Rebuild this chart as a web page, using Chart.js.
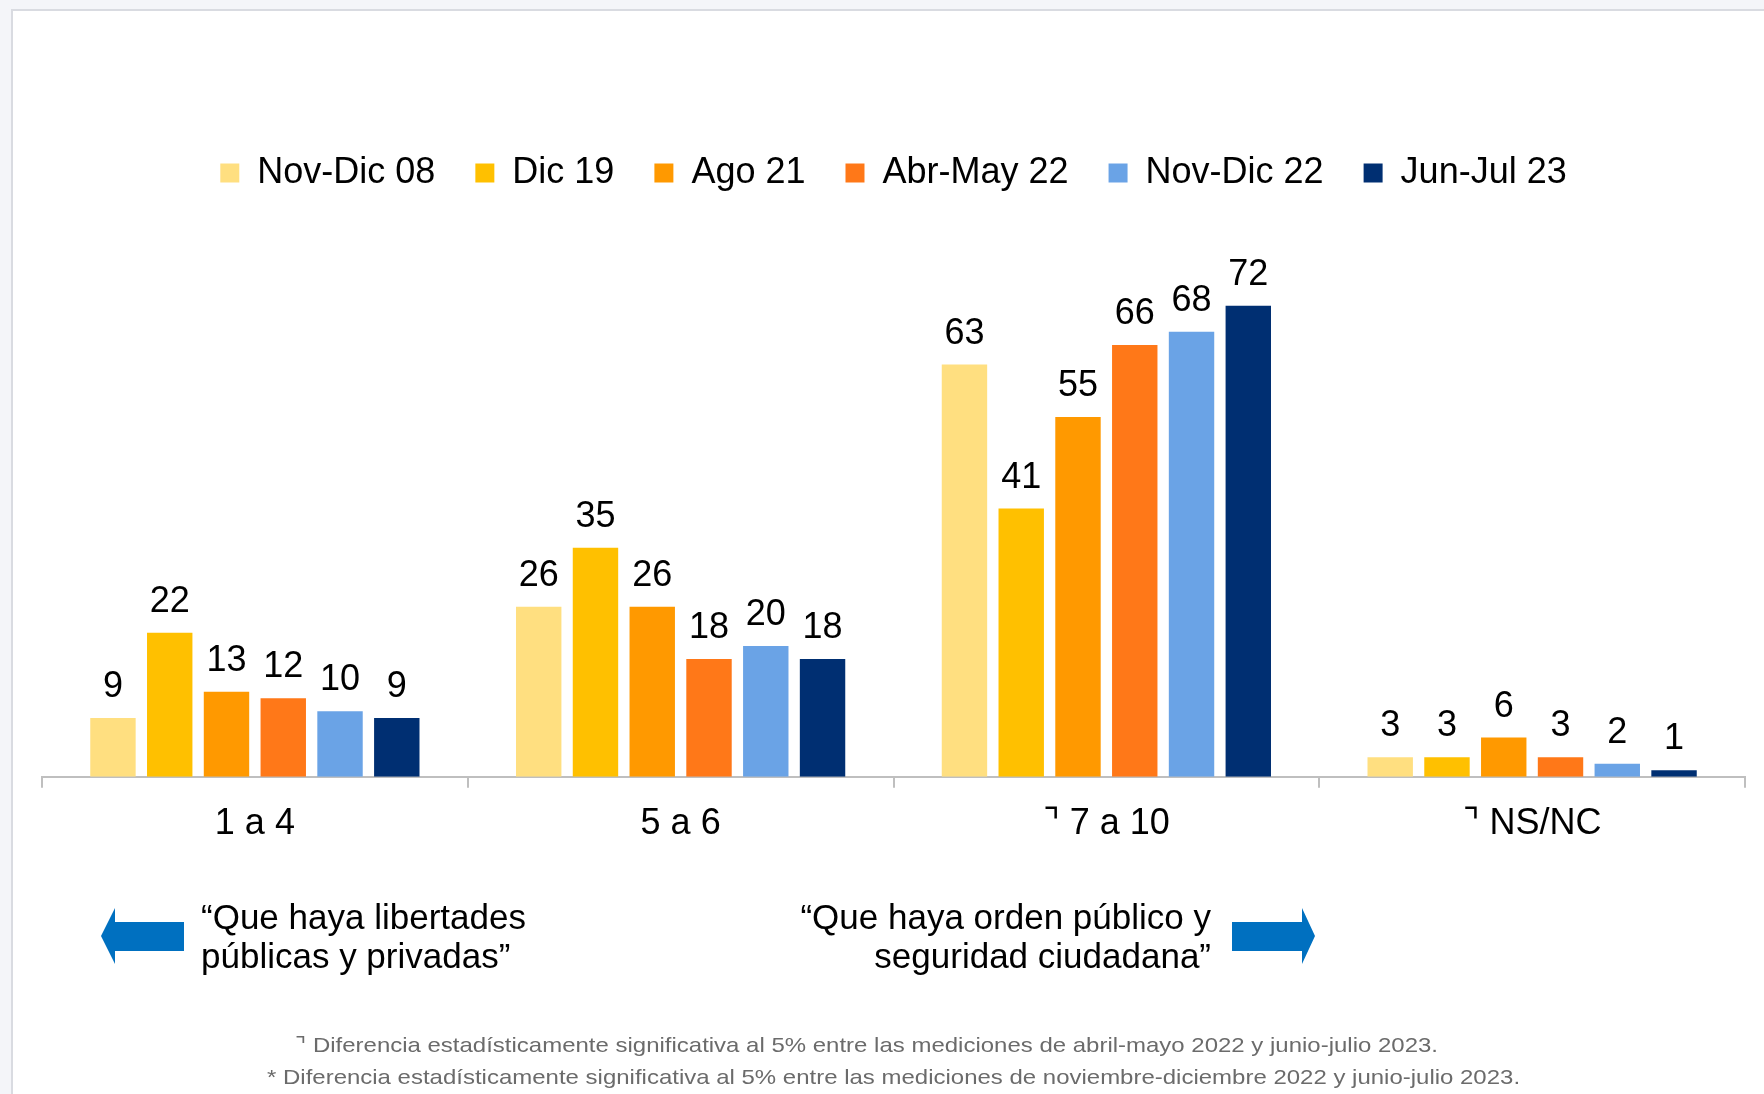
<!DOCTYPE html>
<html lang="es">
<head>
<meta charset="utf-8">
<title>Libertades vs orden público</title>
<script src="https://cdn.jsdelivr.net/npm/chart.js@4.4.1/dist/chart.umd.min.js"></script>
<style>
    html, body {
        margin: 0;
        padding: 0;
        background: #f4f5f9;
        overflow: hidden;
    }
    .frame {
        position: absolute;
        left: 11px;
        top: 9px;
        width: 1800px;
        height: 1200px;
        background: #ffffff;
        border-left: 2px solid #d9dbe1;
        border-top: 2px solid #d9dbe1;
    }
    .wrap {
        position: absolute;
        left: 0;
        top: 0;
        width: 1764px;
        height: 1094px;
    }
</style>
</head>
<body>
<div class="frame"></div>
<div class="wrap"><canvas id="escalaChart"></canvas></div>
<script>
// Categories and series
const categories = ['1 a 4', '5 a 6', '\u231D 7 a 10', '\u231D NS/NC'];
const seriesNames = ['Nov-Dic 08', 'Dic 19', 'Ago 21', 'Abr-May 22', 'Nov-Dic 22', 'Jun-Jul 23'];

const novDic08 = [9, 26, 63, 3];
const dic19 = [22, 35, 41, 3];
const ago21 = [13, 26, 55, 6];
const abrMay22 = [12, 18, 66, 3];
const novDic22 = [10, 20, 68, 2];
const junJul23 = [9, 18, 72, 1];

const seriesValues = [novDic08, dic19, ago21, abrMay22, novDic22, junJul23];
const seriesColors = ['#FFDF80', '#FFC000', '#FF9900', '#FF7818', '#6AA3E6', '#002F72'];

const quoteLeft = ['\u201CQue haya libertades', 'p\u00FAblicas y privadas\u201D'];
const quoteRight = ['\u201CQue haya orden p\u00FAblico y', 'seguridad ciudadana\u201D'];
const footnotes = [
    '\u231D Diferencia estad\u00EDsticamente significativa al 5% entre las mediciones de abril-mayo 2022 y junio-julio 2023.',
    '* Diferencia estad\u00EDsticamente significativa al 5% entre las mediciones de noviembre-diciembre 2022 y junio-julio 2023.'
];

const FONT = "'Liberation Sans', Arial, 'DejaVu Sans', sans-serif";
const AXIS_GRAY = '#BFBFBF';
const ARROW_BLUE = '#0070C0';

// Value labels above each bar
const valueLabels = {
    id: 'valueLabels',
    afterDatasetsDraw(chart) {
        const ctx = chart.ctx;
        ctx.save();
        ctx.font = '36px ' + FONT;
        ctx.fillStyle = '#000000';
        ctx.textAlign = 'center';
        ctx.textBaseline = 'alphabetic';
        chart.data.datasets.forEach((ds, i) => {
            const meta = chart.getDatasetMeta(i);
            meta.data.forEach((bar, j) => {
                ctx.fillText(String(ds.data[j]), bar.x, bar.y - 21);
            });
        });
        ctx.restore();
    }
};

// Arrows, quotes and footnotes under the axis
const annotations = {
    id: 'annotations',
    afterDraw(chart) {
        const ctx = chart.ctx;
        ctx.save();

        ctx.fillStyle = ARROW_BLUE;
        // left arrow
        ctx.beginPath();
        ctx.moveTo(101, 936);
        ctx.lineTo(115, 908);
        ctx.lineTo(115, 922);
        ctx.lineTo(184, 922);
        ctx.lineTo(184, 951);
        ctx.lineTo(115, 951);
        ctx.lineTo(115, 964);
        ctx.closePath();
        ctx.fill();
        // right arrow
        ctx.beginPath();
        ctx.moveTo(1315, 936);
        ctx.lineTo(1302, 908);
        ctx.lineTo(1302, 922);
        ctx.lineTo(1232, 922);
        ctx.lineTo(1232, 951);
        ctx.lineTo(1302, 951);
        ctx.lineTo(1302, 964);
        ctx.closePath();
        ctx.fill();

        ctx.fillStyle = '#000000';
        ctx.font = '35px ' + FONT;
        ctx.textBaseline = 'alphabetic';
        ctx.textAlign = 'left';
        ctx.fillText(quoteLeft[0], 201, 929);
        ctx.fillText(quoteLeft[1], 201, 968);
        ctx.textAlign = 'right';
        ctx.fillText(quoteRight[0], 1211, 929);
        ctx.fillText(quoteRight[1], 1211, 968);

        // footnotes are slightly stretched in the original
        ctx.fillStyle = '#6b6b6b';
        ctx.font = '21px ' + FONT;
        ctx.textAlign = 'left';
        const sx = 1.142;
        ctx.scale(sx, 1);
        ctx.fillText(footnotes[0], 295 / sx, 1052);
        ctx.fillText(footnotes[1], 267 / sx, 1084);

        ctx.restore();
    }
};

const canvas = document.getElementById('escalaChart');

new Chart(canvas, {
    type: 'bar',
    data: {
        labels: categories,
        datasets: seriesNames.map((name, i) => ({
            label: name,
            data: seriesValues[i],
            backgroundColor: seriesColors[i],
            borderWidth: 0
        }))
    },
    options: {
        responsive: true,
        maintainAspectRatio: false,
        animation: false,
        datasets: {
            bar: {
                categoryPercentage: 0.8,
                barPercentage: 0.8
            }
        },
        layout: {
            padding: {
                top: 115,
                left: 42,
                right: 19,
                bottom: 233
            }
        },
        plugins: {
            legend: {
                position: 'top',
                labels: {
                    boxWidth: 19,
                    boxHeight: 19,
                    padding: 40,
                    color: '#000000',
                    font: {
                        family: FONT,
                        size: 36
                    }
                }
            },
            tooltip: {
                enabled: false
            }
        },
        scales: {
            x: {
                grid: {
                    display: true,
                    offset: true,
                    drawOnChartArea: false,
                    drawTicks: true,
                    tickLength: 11,
                    color: AXIS_GRAY,
                    lineWidth: 2
                },
                border: {
                    display: true,
                    color: AXIS_GRAY,
                    width: 2
                },
                ticks: {
                    padding: 15,
                    color: '#000000',
                    font: {
                        family: FONT,
                        size: 36
                    }
                }
            },
            y: {
                display: false,
                min: 0,
                max: 88
            }
        }
    },
    plugins: [valueLabels, annotations]
});
</script>
</body>
</html>
